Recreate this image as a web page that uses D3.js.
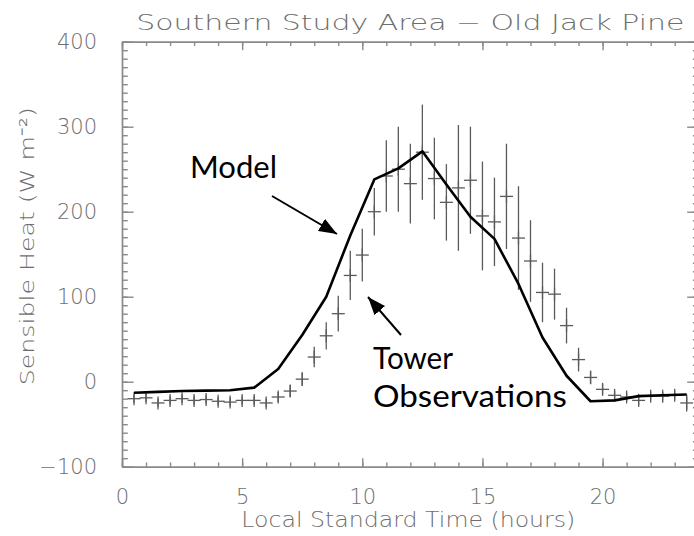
<!DOCTYPE html>
<html>
<head>
<meta charset="utf-8">
<script src="https://cdn.jsdelivr.net/npm/d3@7"></script>
<style>
  body { margin: 0; background: #fff; }
  svg { display: block; }
  .axis text, .label { font-family: "DejaVu Sans", sans-serif; font-weight: 200; fill: #6e6e6e; }
  .axis path, .axis line { stroke: #8a8a8a; stroke-width: 1.4; }
  .note { font-family: "Lato", "Noto Sans", sans-serif; fill: #000; }
</style>
</head>
<body>
<div id="chart"></div>
<script>
// Model output, hourly values at the half hour
var modelHours = [0.5, 1.5, 2.5, 3.5, 4.5, 5.5, 6.5, 7.5, 8.5, 9.5, 10.5, 11.5,
  12.5, 13.5, 14.5, 15.5, 16.5, 17.5, 18.5, 19.5, 20.5, 21.5, 22.5, 23.5];
var modelFlux = [-13, -12, -11, -10.5, -10, -7, 15, 55, 100, 172, 238, 251,
  271, 232, 194, 168, 115, 52, 7, -23, -22, -17, -16, -15];

// Tower observations, half hourly mean and spread
var obsHours = [0.5, 1, 1.5, 2, 2.5, 3, 3.5, 4, 4.5, 5, 5.5, 6,
  6.5, 7, 7.5, 8, 8.5, 9, 9.5, 10, 10.5, 11, 11.5, 12,
  12.5, 13, 13.5, 14, 14.5, 15, 15.5, 16, 16.5, 17, 17.5, 18,
  18.5, 19, 19.5, 20, 20.5, 21, 21.5, 22, 22.5, 23, 23.5];
var obsFlux = [-20, -19, -25, -22, -20, -22, -21, -23, -24, -22, -22, -25,
  -18, -11, 3, 29, 54, 80, 125, 149, 200, 242, 250, 233,
  270, 239, 211, 228, 237, 195, 188, 218, 169, 142, 105, 103,
  66, 26, 5, -9, -16, -18, -22, -17, -17, -16, -25];
var obsErr = [5, 5, 5, 5, 5, 5, 5, 5, 5, 5, 5, 5,
  6, 7, 8, 12, 16, 21, 29, 31, 28, 42, 50, 47,
  56, 48, 45, 74, 63, 64, 52, 62, 61, 48, 35, 30,
  21, 14, 8, 6, 5, 5, 6, 5, 5, 5, 10];

var xTicks = [0, 5, 10, 15, 20];
var yTicks = [-100, 0, 100, 200, 300, 400];

// SVG area
var svgWidth = 694;
var svgHeight = 536;

var chartMargin = { top: 41.7, left: 122 };
var chartWidth = 576.7;
var chartHeight = 425;

var svg = d3.select("#chart")
  .append("svg")
  .attr("width", svgWidth)
  .attr("height", svgHeight);

var chartGroup = svg.append("g")
  .attr("transform", `translate(${chartMargin.left}, ${chartMargin.top})`);

// scales
var xScale = d3.scaleLinear().domain([0, 24]).range([0, chartWidth]);
var yScale = d3.scaleLinear().domain([-100, 400]).range([chartHeight, 0]);

// tick lengths, IDL style (2% of the other dimension)
var xMajor = 0.02 * chartHeight;
var yMajor = 0.02 * chartWidth;

var xMinorTicks = d3.range(0, 25, 1);
var yMinorTicks = d3.range(-100, 401, 10);

// bottom axis with labels
chartGroup.append("g")
  .attr("class", "axis")
  .attr("transform", `translate(0, ${chartHeight})`)
  .call(d3.axisBottom(xScale).tickValues(xTicks).tickSizeInner(-xMajor)
    .tickSizeOuter(0).tickPadding(22).tickFormat(d3.format("d")))
  .selectAll("text").style("font-size", "21px");

chartGroup.append("g")
  .attr("class", "axis")
  .attr("transform", `translate(0, ${chartHeight})`)
  .call(d3.axisBottom(xScale).tickValues(xMinorTicks).tickSizeInner(-xMajor / 2)
    .tickSizeOuter(0).tickFormat(""));

// top axis, ticks only
chartGroup.append("g")
  .attr("class", "axis")
  .call(d3.axisTop(xScale).tickValues(xTicks).tickSizeInner(-xMajor)
    .tickSizeOuter(0).tickFormat(""));

chartGroup.append("g")
  .attr("class", "axis")
  .call(d3.axisTop(xScale).tickValues(xMinorTicks).tickSizeInner(-xMajor / 2)
    .tickSizeOuter(0).tickFormat(""));

// left axis with labels
chartGroup.append("g")
  .attr("class", "axis")
  .call(d3.axisLeft(yScale).tickValues(yTicks).tickSizeInner(-yMajor)
    .tickSizeOuter(0).tickPadding(25).tickFormat(d => d < 0 ? "\u2212" + Math.abs(d) : d))
  .selectAll("text").style("font-size", "21px");

chartGroup.append("g")
  .attr("class", "axis")
  .call(d3.axisLeft(yScale).tickValues(yMinorTicks).tickSizeInner(-yMajor / 2)
    .tickSizeOuter(0).tickFormat(""));

// right axis, ticks only (cut off by the picture edge)
chartGroup.append("g")
  .attr("class", "axis")
  .attr("transform", `translate(${chartWidth}, 0)`)
  .call(d3.axisRight(yScale).tickValues(yTicks).tickSizeInner(-yMajor)
    .tickSizeOuter(0).tickFormat(""));

chartGroup.append("g")
  .attr("class", "axis")
  .attr("transform", `translate(${chartWidth}, 0)`)
  .call(d3.axisRight(yScale).tickValues(yMinorTicks).tickSizeInner(-yMajor / 2)
    .tickSizeOuter(0).tickFormat(""));

// observations: error bars and plus symbols
var obs = obsHours.map((h, i) => ({ h: h, v: obsFlux[i], e: obsErr[i] }));
var half = 6.5;

var obsGroup = chartGroup.append("g")
  .attr("stroke", "#5a5a5a")
  .attr("stroke-width", 1.3);

obsGroup.selectAll(".err")
  .data(obs)
  .enter()
  .append("line")
  .attr("x1", d => xScale(d.h))
  .attr("x2", d => xScale(d.h))
  .attr("y1", d => yScale(d.v + d.e))
  .attr("y2", d => yScale(d.v - d.e));

obsGroup.selectAll(".hbar")
  .data(obs)
  .enter()
  .append("line")
  .attr("x1", d => xScale(d.h) - half)
  .attr("x2", d => xScale(d.h) + half)
  .attr("y1", d => yScale(d.v))
  .attr("y2", d => yScale(d.v));

obsGroup.selectAll(".vbar")
  .data(obs)
  .enter()
  .append("line")
  .attr("x1", d => xScale(d.h))
  .attr("x2", d => xScale(d.h))
  .attr("y1", d => yScale(d.v) - half)
  .attr("y2", d => yScale(d.v) + half);

// model line
var line = d3.line()
  .x((d, i) => xScale(modelHours[i]))
  .y(d => yScale(d));

chartGroup.append("path")
  .datum(modelFlux)
  .attr("d", line)
  .attr("fill", "none")
  .attr("stroke", "#000")
  .attr("stroke-width", 2.6)
  .attr("stroke-linejoin", "round");

// titles
svg.append("text")
  .attr("class", "label")
  .attr("x", chartMargin.left + chartWidth / 2)
  .attr("y", 30)
  .attr("text-anchor", "middle")
  .attr("textLength", 548)
  .attr("lengthAdjust", "spacingAndGlyphs")
  .style("font-size", "22px")
  .text("Southern Study Area \u2212 Old Jack Pine");

svg.append("text")
  .attr("class", "label")
  .attr("x", chartMargin.left + chartWidth / 2 - 2)
  .attr("y", 527)
  .attr("text-anchor", "middle")
  .attr("textLength", 334)
  .attr("lengthAdjust", "spacingAndGlyphs")
  .style("font-size", "21px")
  .text("Local Standard Time (hours)");

svg.append("text")
  .attr("class", "label")
  .attr("transform", `translate(34, ${chartMargin.top + chartHeight / 2 - 8}) rotate(-90)`)
  .attr("text-anchor", "middle")
  .attr("textLength", 278)
  .attr("lengthAdjust", "spacingAndGlyphs")
  .style("font-size", "20px")
  .text("Sensible Heat (W m\u207B\u00B2)");

// annotations with arrows
svg.append("defs").append("marker")
  .attr("id", "head")
  .attr("markerUnits", "userSpaceOnUse")
  .attr("viewBox", "0 0 18 14")
  .attr("refX", 18)
  .attr("refY", 7)
  .attr("markerWidth", 18)
  .attr("markerHeight", 14)
  .attr("orient", "auto")
  .append("path")
  .attr("d", "M0,0 L18,7 L0,14 Z")
  .attr("fill", "#000");

svg.append("text")
  .attr("class", "note")
  .attr("x", 190)
  .attr("y", 178)
  .attr("textLength", 87)
  .attr("lengthAdjust", "spacingAndGlyphs")
  .style("font-size", "30px")
  .text("Model");

svg.append("line")
  .attr("x1", 272).attr("y1", 196)
  .attr("x2", 337).attr("y2", 234)
  .attr("stroke", "#000")
  .attr("stroke-width", 2)
  .attr("marker-end", "url(#head)");

svg.append("text")
  .attr("class", "note")
  .attr("x", 373)
  .attr("y", 369)
  .attr("textLength", 80)
  .attr("lengthAdjust", "spacingAndGlyphs")
  .style("font-size", "30px")
  .text("Tower");

svg.append("text")
  .attr("class", "note")
  .attr("x", 373)
  .attr("y", 407)
  .attr("textLength", 194)
  .attr("lengthAdjust", "spacingAndGlyphs")
  .style("font-size", "30px")
  .text("Observations");

svg.append("line")
  .attr("x1", 401).attr("y1", 335)
  .attr("x2", 368).attr("y2", 297)
  .attr("stroke", "#000")
  .attr("stroke-width", 2)
  .attr("marker-end", "url(#head)");
</script>
</body>
</html>
